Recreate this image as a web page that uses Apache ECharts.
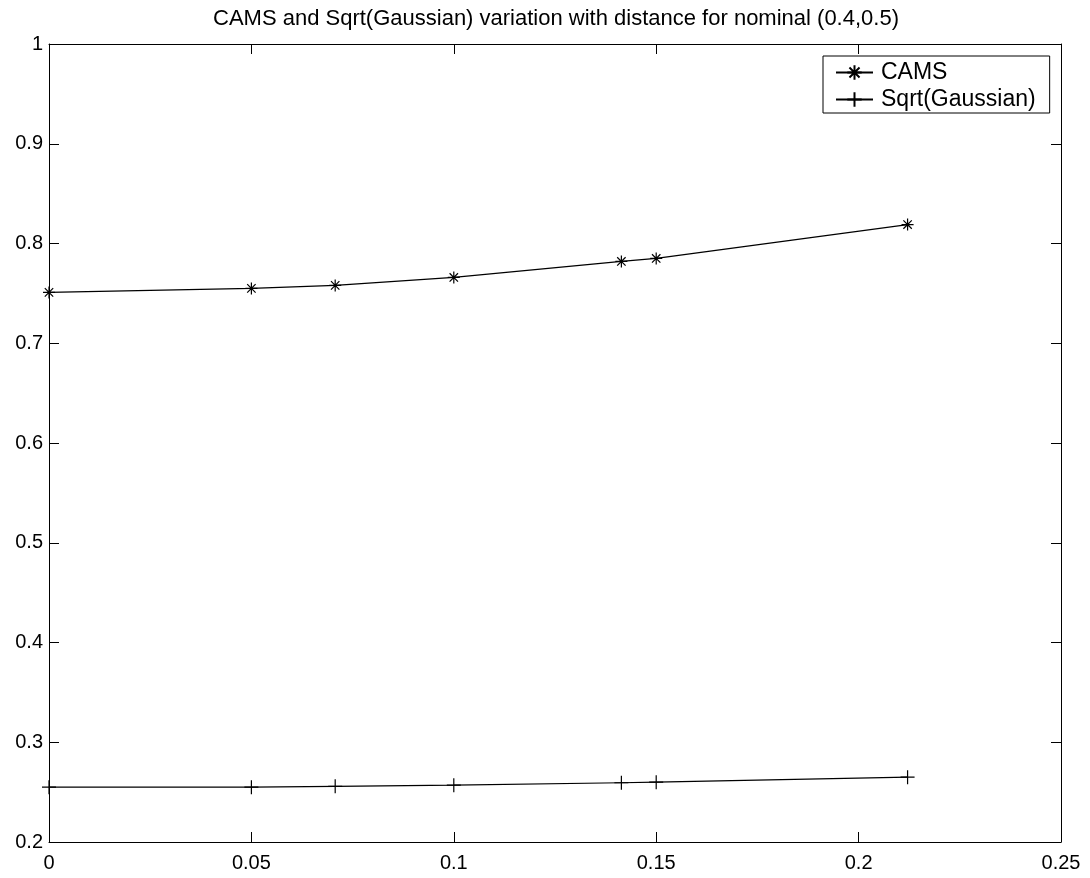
<!DOCTYPE html>
<html>
<head>
<meta charset="utf-8">
<script src="https://cdn.jsdelivr.net/npm/echarts@6/dist/echarts.min.js"></script>
<style>
html,body{margin:0;padding:0;background:#fff;}
#chart{width:1090px;height:878px;}
</style>
</head>
<body>
<div id="chart"></div>
<script>
const titleText = 'CAMS and Sqrt(Gaussian) variation with distance for nominal (0.4,0.5)';
const seriesNames = ['CAMS', 'Sqrt(Gaussian)'];
const xValues = [0, 0.05, 0.0707, 0.1, 0.1414, 0.15, 0.2121];
const camsValues = [0.751, 0.755, 0.758, 0.766, 0.782, 0.785, 0.819];
const gaussValues = [0.255, 0.255, 0.2558, 0.257, 0.2594, 0.260, 0.265];

const FONT = "'Liberation Sans', Arial, Helvetica, sans-serif";
const asterisk = 'path://M0,6L12,6M6,0L6,12M1.8,1.8L10.2,10.2M10.2,1.8L1.8,10.2';
const plus = 'path://M0,7L14,7M7,0L7,14';

function pairs(xs, ys){ return xs.map((x,i)=>[x, ys[i]]); }

const chart = echarts.init(document.getElementById('chart'), null, {renderer:'canvas'});
const axisCommon = {
  type: 'value',
  axisLine: {show: true, onZero: false, lineStyle: {color: '#000', width: 1}},
  axisTick: {show: true, inside: true, length: 10, lineStyle: {color: '#000', width: 1}},
  splitLine: {show: false}
};
chart.setOption({
  animation: false,
  backgroundColor: '#fff',
  textStyle: {fontFamily: FONT},
  title: {
    text: titleText,
    left: 556,
    top: 8,
    padding: 0,
    textAlign: 'center',
    textStyle: {fontFamily: FONT, fontSize: 22, fontWeight: 'normal', color: '#000'}
  },
  legend: {
    orient: 'vertical',
    left: 823,
    top: 56,
    padding: [5, 14, 2, 12],
    itemWidth: 37,
    itemHeight: 18,
    itemGap: 4,
    borderColor: '#000',
    borderWidth: 1,
    backgroundColor: '#fff',
    textStyle: {fontFamily: FONT, fontSize: 23, color: '#000', lineHeight: 20, padding: [0,0,0,3]},
    data: seriesNames
  },
  grid: {left: 49, right: 29, top: 44, bottom: 36, containLabel: false},
  xAxis: [
    Object.assign({}, axisCommon, {
      position: 'bottom', min: 0, max: 0.25, interval: 0.05,
      axisLabel: {show: true, color: '#000', fontSize: 20, fontFamily: FONT, margin: 11}
    }),
    Object.assign({}, axisCommon, {
      position: 'top', min: 0, max: 0.25, interval: 0.05,
      axisLabel: {show: false}
    })
  ],
  yAxis: [
    Object.assign({}, axisCommon, {
      position: 'left', min: 0.2, max: 1, interval: 0.1,
      axisLabel: {show: true, color: '#000', fontSize: 20, fontFamily: FONT, margin: 6}
    }),
    Object.assign({}, axisCommon, {
      position: 'right', min: 0.2, max: 1, interval: 0.1,
      axisLabel: {show: false}
    })
  ],
  series: [
    {
      name: seriesNames[0], type: 'line', xAxisIndex: 0, yAxisIndex: 0,
      data: pairs(xValues, camsValues),
      symbol: asterisk, symbolSize: 12, showAllSymbol: true,
      lineStyle: {color: '#000', width: 1.2},
      itemStyle: {color: '#000', borderColor: '#000', borderWidth: 1.2},
      emphasis: {disabled: true}
    },
    {
      name: seriesNames[1], type: 'line', xAxisIndex: 0, yAxisIndex: 0,
      data: pairs(xValues, gaussValues),
      symbol: plus, symbolSize: 14, showAllSymbol: true,
      lineStyle: {color: '#000', width: 1.2},
      itemStyle: {color: '#000', borderColor: '#000', borderWidth: 1.2},
      emphasis: {disabled: true}
    }
  ]
});
</script>
</body>
</html>
